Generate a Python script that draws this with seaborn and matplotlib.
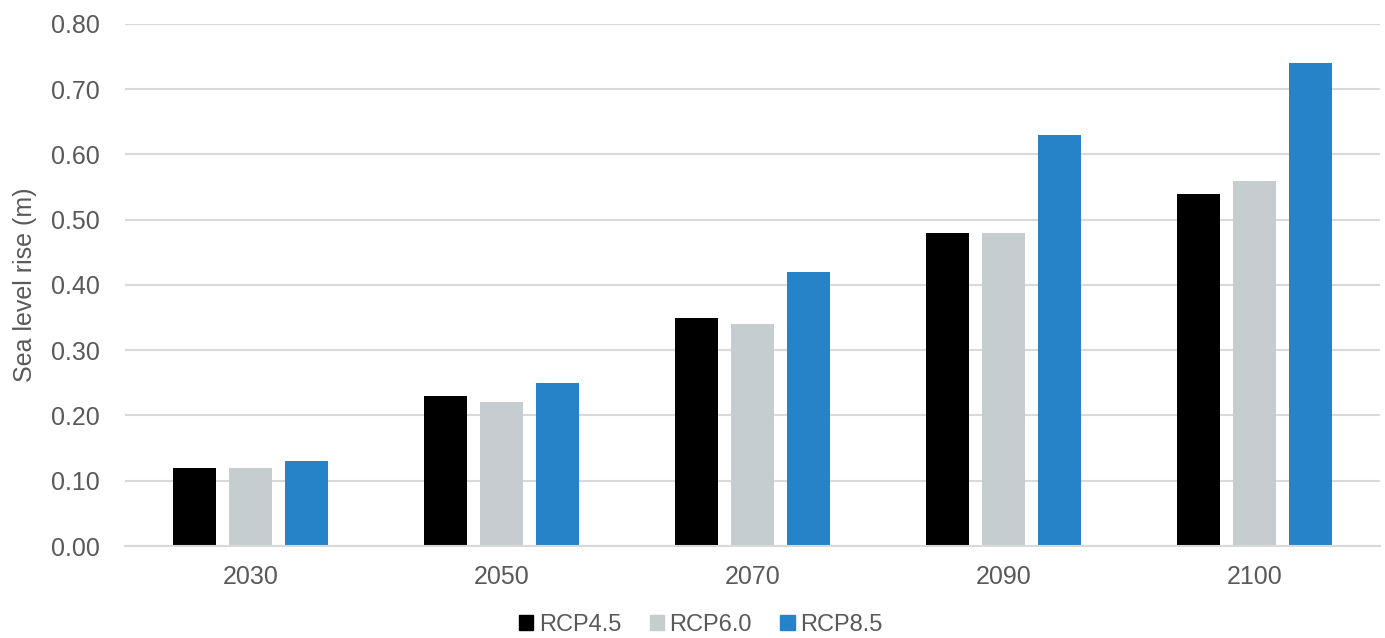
import pandas as pd
import seaborn as sns
import matplotlib.pyplot as plt

years = ['2030', '2050', '2070', '2090', '2100']
rcp45 = [0.12, 0.23, 0.35, 0.48, 0.54]
rcp60 = [0.12, 0.22, 0.34, 0.48, 0.56]
rcp85 = [0.13, 0.25, 0.42, 0.63, 0.74]
scenarios = ['RCP4.5', 'RCP6.0', 'RCP8.5']
colors = ['#000000', '#c6cdd1', '#2783c7']

df = pd.DataFrame({'year': years * 3,
                   'value': rcp45 + rcp60 + rcp85,
                   'scenario': [s for s in scenarios for _ in years]})

sns.set_style('white')
plt.rcParams['font.family'] = ['Liberation Sans', 'DejaVu Sans']

fig = plt.figure(figsize=(13.85, 6.38), dpi=100)
ax = fig.add_axes([0.0903, 0.1442, 0.9061, 0.8182])

sns.barplot(data=df, x='year', y='value', hue='scenario', palette=colors,
            saturation=1, width=0.67, gap=0.23, ax=ax, legend=False,
            edgecolor='none')

ax.set_ylim(0, 0.8)
ax.set_xlim(-0.5, 4.5)
ax.set_yticks([i / 10 for i in range(9)])
ax.set_yticklabels([f'{i / 10:.2f}' for i in range(9)])
ax.yaxis.grid(True, color='#d9d9d9', linewidth=1.5)
ax.set_axisbelow(True)
for s in ['top', 'right', 'left']:
    ax.spines[s].set_visible(False)
ax.spines['bottom'].set_color('#d9d9d9')
ax.spines['bottom'].set_linewidth(1.5)
ax.tick_params(axis='both', length=0, labelsize=18, labelcolor='#595959')
ax.tick_params(axis='y', pad=18)
ax.tick_params(axis='x', pad=14)
ax.set_xlabel('')
ax.set_ylabel('Sea level rise (m)', fontsize=18, color='#595959', labelpad=10)

# legend sits right at the bottom edge like the original
handles = [plt.Rectangle((0, 0), 1, 1, color=c) for c in colors]
fig.legend(handles, scenarios, loc='lower center', bbox_to_anchor=(0.506, -0.03),
           ncol=3, frameon=False, fontsize=17, labelcolor='#595959',
           handlelength=0.6, handleheight=0.6, handletextpad=0.25, columnspacing=1.2)

fig.savefig('out.png', dpi=100)
